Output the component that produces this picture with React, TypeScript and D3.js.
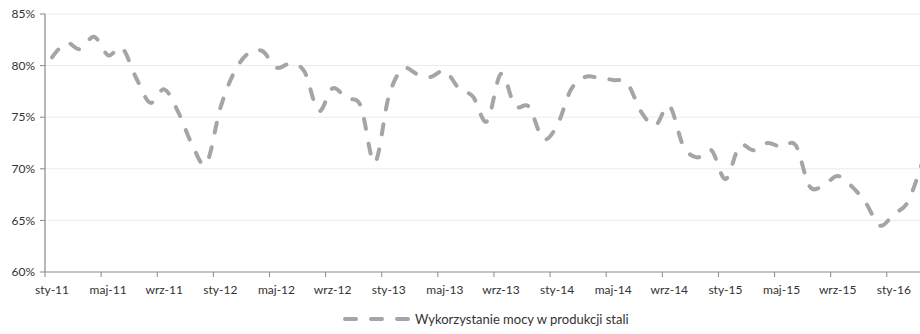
import React from "react";
import * as d3 from "d3";

const months: string[] = [
  "sty-11","lut-11","mar-11","kwi-11","maj-11","cze-11","lip-11","sie-11","wrz-11","paź-11","lis-11","gru-11",
  "sty-12","lut-12","mar-12","kwi-12","maj-12","cze-12","lip-12","sie-12","wrz-12","paź-12","lis-12","gru-12",
  "sty-13","lut-13","mar-13","kwi-13","maj-13","cze-13","lip-13","sie-13","wrz-13","paź-13","lis-13","gru-13",
  "sty-14","lut-14","mar-14","kwi-14","maj-14","cze-14","lip-14","sie-14","wrz-14","paź-14","lis-14","gru-14",
  "sty-15","lut-15","mar-15","kwi-15","maj-15","cze-15","lip-15","sie-15","wrz-15","paź-15","lis-15","gru-15",
  "sty-16","lut-16","mar-16"
];

const utilization: number[] = [
  80.8, 82.2, 81.6, 82.8, 81.0, 81.7, 78.8, 76.4, 77.7, 75.5, 72.3, 70.5,
  75.9, 79.4, 81.2, 81.4, 79.8, 80.2, 79.4, 75.6, 77.8, 76.8, 76.1, 70.6,
  77.0, 79.7, 79.2, 78.9, 79.5, 77.8, 77.0, 74.6, 79.2, 76.1, 76.0, 72.9,
  74.2, 77.7, 78.9, 78.8, 78.6, 78.3, 75.5, 74.2, 76.1, 72.2, 71.1, 71.8,
  69.0, 72.2, 71.8, 72.5, 72.1, 72.3, 68.3, 68.4, 69.3, 68.3, 66.7, 64.5,
  65.6, 66.8, 70.5
];

const yTicks: number[] = [60, 65, 70, 75, 80, 85];
const seriesName = "Wykorzystanie mocy w produkcji stali";

const W = 920;
const H = 334;
const left = 45;
const top = 14;
const bottom = 272;
const step = 14.03;

export default function App() {
  const x = d3
    .scaleBand<string>()
    .domain(months)
    .range([left, left + step * months.length])
    .padding(0);
  const y = d3.scaleLinear().domain([60, 85]).range([bottom, top]);
  const cx = (m: string) => (x(m) as number) + x.bandwidth() / 2;

  const line = d3
    .line<number>()
    .x((_, i) => cx(months[i]))
    .y((d) => y(d))
    .curve(d3.curveCardinal.tension(0));

  const font = "Lato, 'Open Sans', sans-serif";
  const tickMonths = months.filter((_, i) => i % 4 === 0);

  return (
    <svg
      width={W}
      height={H}
      style={{ position: "absolute", left: 0, top: 0, background: "#fff" }}
      fontFamily={font}
    >
      {yTicks.map((t) => (
        <g key={t}>
          {t !== 60 && (
            <line x1={left} x2={W} y1={y(t)} y2={y(t)} stroke="#ececec" strokeWidth={1} />
          )}
          <line x1={left - 5} x2={left} y1={y(t)} y2={y(t)} stroke="#888" strokeWidth={1} />
          <text
            x={left - 10}
            y={y(t)}
            dy="0.35em"
            textAnchor="end"
            fontSize={12}
            fill="#333"
          >
            {t}%
          </text>
        </g>
      ))}
      <line x1={left} x2={left} y1={top} y2={bottom} stroke="#888" strokeWidth={1.2} />
      <line x1={left} x2={W} y1={bottom} y2={bottom} stroke="#888" strokeWidth={1.2} />
      {tickMonths.map((m) => (
        <g key={m}>
          <line x1={x(m)} x2={x(m)} y1={bottom} y2={bottom + 5} stroke="#888" strokeWidth={1} />
          <text x={cx(m)} y={290} dy="0.35em" textAnchor="middle" fontSize={12} fill="#333">
            {m}
          </text>
        </g>
      ))}
      <path
        d={line(utilization) || ""}
        fill="none"
        stroke="#a5a5a5"
        strokeWidth={4}
        strokeDasharray="10 15"
        strokeLinecap="round"
      />
      <line
        x1={345}
        x2={410}
        y1={319}
        y2={319}
        stroke="#a5a5a5"
        strokeWidth={4}
        strokeDasharray="11 15"
        strokeLinecap="round"
      />
      <text x={415} y={319} dy="0.35em" fontSize={13} fill="#333">
        {seriesName}
      </text>
    </svg>
  );
}
